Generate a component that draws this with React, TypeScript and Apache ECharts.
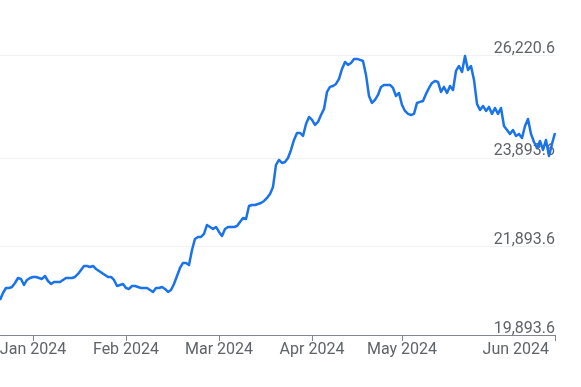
import React, { useEffect, useRef } from "react";
import * as echarts from "echarts";

// Series values (one point per trading step)
const values: number[] = [
  20685, 20843, 20956, 20956, 20979, 21069, 21182, 21160, 21024, 21137,
  21182, 21205, 21205, 21182, 21160, 21227, 21114, 21047, 21092, 21092,
  21092, 21137, 21182, 21182, 21182, 21205, 21273, 21363, 21453, 21453,
  21431, 21453, 21386, 21340, 21295, 21250, 21205, 21205, 21137, 21001,
  21024, 21047, 20956, 20934, 21001, 21001, 20979, 20956, 20956, 20956,
  20911, 20866, 20956, 20956, 20979, 20934, 20866, 20911, 21047, 21227,
  21408, 21521, 21521, 21476, 21815, 22064, 22109, 22109, 22177, 22380,
  22335, 22290, 22335, 22222, 22131, 22290, 22335, 22335, 22335, 22357,
  22448, 22538, 22516, 22809, 22832, 22832, 22855, 22877, 22922, 22990,
  23081, 23239, 23736, 23849, 23781, 23804, 23894, 24075, 24301, 24459,
  24459, 24391, 24663, 24821, 24753, 24640, 24708, 24866, 25002, 25386,
  25499, 25521, 25567, 25680, 25906, 26064, 25996, 26041, 26132, 26132,
  26109, 26086, 25770, 25295, 25137, 25205, 25318, 25499, 25544, 25544,
  25544, 25476, 25295, 25363, 25092, 24956, 24889, 24866, 24889, 25137,
  25160, 25182, 25341, 25476, 25589, 25634, 25612, 25386, 25499, 25363,
  25521, 25431, 25860, 25973, 25838, 26200, 25883, 25973, 25657, 25115,
  24979, 25069, 24956, 25047, 24889, 25024, 24889, 25024, 24617, 24527,
  24437, 24527, 24391, 24437, 24346, 24617, 24776, 24437, 24256, 24120,
  24278, 24075, 24301, 23939, 24211, 24459,
];

// Category steps along the x axis
const categories: string[] = values.map((_, i) => String(i));

// Month ticks (category index) and their labels
const monthTickIndex: number[] = [11, 42, 73, 104, 134, 185];
const monthTickLabels: string[] = [
  "Jan 2024",
  "Feb 2024",
  "Mar 2024",
  "Apr 2024",
  "May 2024",
  "Jun 2024",
];

// Y axis tick values
const yTicks: number[] = [19893.6, 21893.6, 23893.6, 26220.6];
const yMin = 19893.6;
const yMax = 26220.6;

const FONT = "Roboto, Arial, sans-serif";
const TEXT_COLOR = "#5f6368";

export default function App() {
  const ref = useRef<HTMLDivElement>(null);

  useEffect(() => {
    if (!ref.current) return;
    const chart = echarts.init(ref.current, undefined, { renderer: "svg" });
    const lastIdx = monthTickIndex[monthTickIndex.length - 1];
    chart.setOption({
      animation: false,
      grid: {
        left: 0,
        right: 26,
        top: 55,
        bottom: 52,
        containLabel: false,
        outerBoundsMode: "none",
      },
      xAxis: {
        type: "category",
        data: categories,
        boundaryGap: false,
        z: 3,
        axisLine: { show: true, lineStyle: { color: "#80868b", width: 1 } },
        axisTick: {
          show: true,
          length: 6,
          interval: (i: number) => monthTickIndex.includes(i),
          lineStyle: { color: "#80868b", width: 1 },
        },
        axisLabel: {
          show: true,
          interval: (i: number) => monthTickIndex.includes(i),
          formatter: (_v: string, i: number) => {
            const k = monthTickIndex.indexOf(i);
            if (k < 0) return "";
            return i === lastIdx
              ? "{last|" + monthTickLabels[k] + "}"
              : monthTickLabels[k];
          },
          rich: {
            last: {
              color: TEXT_COLOR,
              fontFamily: FONT,
              fontSize: 16,
              padding: [0, 6, 0, 0],
            },
          },
          alignMaxLabel: "right",
          color: TEXT_COLOR,
          fontFamily: FONT,
          fontSize: 16,
          margin: 5,
        },
        splitLine: { show: false },
      },
      yAxis: {
        type: "value",
        position: "right",
        min: yMin,
        max: yMax,
        axisLine: { show: false },
        axisTick: { show: false, customValues: yTicks },
        axisLabel: {
          show: true,
          customValues: yTicks,
          inside: true,
          margin: 0,
          verticalAlign: "bottom",
          color: TEXT_COLOR,
          fontFamily: FONT,
          fontSize: 16,
          formatter: (v: number) =>
            v.toLocaleString("en-US", {
              minimumFractionDigits: 1,
              maximumFractionDigits: 1,
            }),
        },
        splitLine: { show: true, lineStyle: { color: "#f1f1f1", width: 1 } },
      },
      series: [
        {
          type: "line",
          data: values,
          showSymbol: false,
          symbol: "none",
          smooth: false,
          lineStyle: { color: "#1a73e8", width: 2.5, join: "round" },
          z: 2,
        },
      ],
    });
    return () => chart.dispose();
  }, []);

  return (
    <div
      ref={ref}
      style={{ position: "fixed", left: 0, top: 0, width: 581, height: 387 }}
    />
  );
}
